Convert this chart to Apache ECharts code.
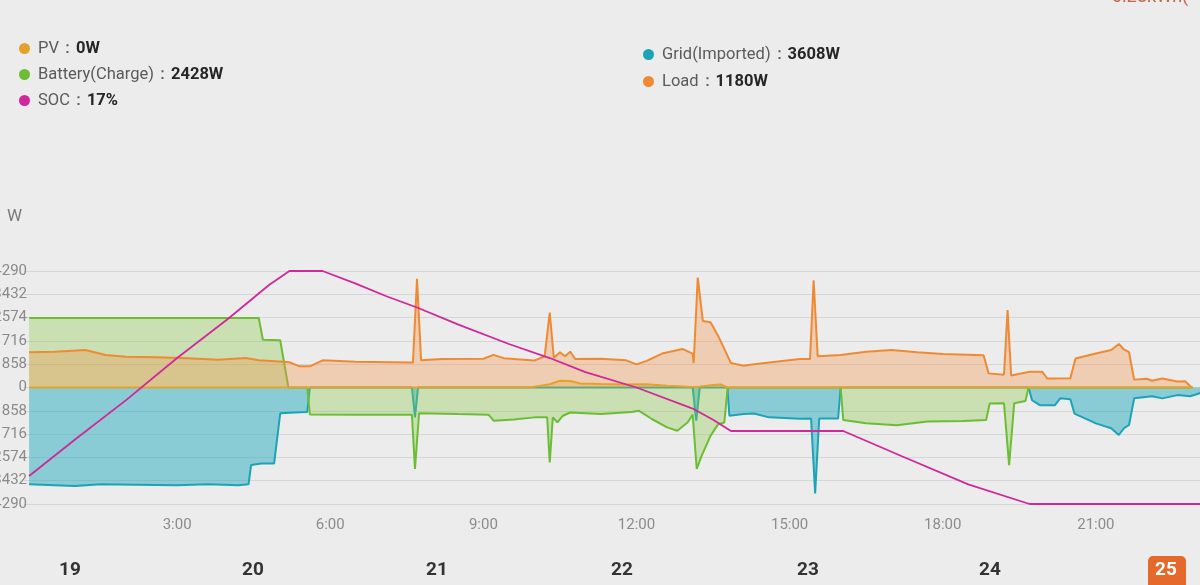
<!DOCTYPE html>
<html>
<head>
<meta charset="utf-8">
<script src="https://cdn.jsdelivr.net/npm/echarts@6/dist/echarts.min.js"></script>
<style>
html,body{margin:0;padding:0;background:#ececec;}
#c{width:1200px;height:585px;}
</style>
</head>
<body>
<div id="c"></div>
<script>
// ---- data (hour of day, watts) ----
const seriesNames = ['PV', 'Battery(Charge)', 'SOC', 'Grid(Imported)', 'Load'];
const legendValues = ['0W', '2428W', '17%', '3608W', '1180W'];
const dateLabels = ['19', '20', '21', '22', '23', '24', '25'];
const headerNote = '0.28kWh(';

const pvData = [[0.1,0],[9.9,0],[10.1,60],[10.3,120],[10.5,250],[10.7,240],[10.9,150],[11.3,130],[11.8,110],[12.2,120],[12.6,60],[13.0,30],[13.2,20],[13.5,90],[13.65,110],[13.78,0],[22.9,0]];

const batteryData = [[0.1,2560],[4.6,2560],[4.68,1760],[5.02,1740],[5.18,0],[5.55,0],[5.6,-990],[6.5,-1000],[7.2,-1000],[7.6,-1000],[7.66,-3000],[7.74,-950],[8.5,-980],[9.1,-1000],[9.2,-1220],[9.6,-1180],[10.0,-1100],[10.25,-1100],[10.3,-2760],[10.36,-1100],[10.45,-1280],[10.55,-1050],[10.7,-920],[11.3,-980],[11.9,-900],[12.05,-860],[12.3,-1160],[12.6,-1470],[12.8,-1590],[13.0,-1290],[13.1,-1000],[13.18,-3000],[13.28,-2500],[13.45,-1780],[13.6,-1350],[13.72,-1290],[13.78,-120],[13.82,0],[16.0,0],[16.05,-1200],[16.5,-1320],[17.1,-1390],[17.7,-1250],[18.4,-1230],[18.85,-1200],[18.92,-590],[19.2,-580],[19.3,-2860],[19.4,-580],[19.62,-500],[19.68,0],[22.9,0]];

const gridData = [[0.1,-3560],[0.6,-3600],[1.0,-3630],[1.5,-3560],[2.2,-3580],[3.0,-3600],[3.6,-3560],[4.2,-3600],[4.4,-3560],[4.45,-2850],[4.65,-2800],[4.9,-2800],[5.02,-950],[5.3,-920],[5.55,-900],[5.6,0],[7.6,0],[7.66,-1100],[7.72,0],[13.1,0],[13.17,-1220],[13.24,0],[13.78,0],[13.82,-1040],[14.1,-980],[14.3,-960],[14.6,-1100],[15.2,-1150],[15.42,-1140],[15.5,-3900],[15.58,-1140],[15.95,-1140],[16.0,0],[19.68,0],[19.75,-470],[19.9,-650],[20.2,-650],[20.3,-400],[20.5,-430],[20.58,-960],[21.0,-1320],[21.3,-1500],[21.45,-1750],[21.55,-1500],[21.65,-1380],[21.75,-400],[22.1,-320],[22.3,-400],[22.6,-280],[22.85,-320],[23.05,-200]];

const loadData = [[0.1,1300],[0.6,1320],[1.2,1380],[1.6,1200],[2.0,1130],[2.6,1110],[3.2,1080],[3.8,1020],[4.35,1090],[4.6,1000],[5.0,960],[5.2,930],[5.4,780],[5.6,780],[5.85,1000],[6.5,950],[7.2,930],[7.62,920],[7.7,4000],[7.78,1000],[8.2,1050],[9.0,1060],[9.2,1200],[9.4,1080],[10.0,990],[10.2,1150],[10.3,2760],[10.38,1100],[10.5,1300],[10.6,1150],[10.7,1320],[10.8,1050],[11.3,1060],[11.8,1000],[12.0,850],[12.2,980],[12.5,1250],[12.9,1420],[13.1,1250],[13.12,900],[13.2,4050],[13.3,2450],[13.45,2400],[13.6,1900],[13.75,1300],[13.85,900],[14.1,800],[14.3,860],[15.2,1050],[15.4,1050],[15.47,3950],[15.55,1150],[16.0,1200],[16.5,1320],[17.0,1380],[17.5,1300],[18.0,1230],[18.8,1190],[18.9,520],[19.2,470],[19.27,2850],[19.34,440],[19.7,580],[19.95,580],[20.05,330],[20.5,340],[20.6,1070],[21.0,1250],[21.3,1380],[21.45,1600],[21.55,1400],[21.65,1300],[21.75,290],[22.0,320],[22.1,250],[22.3,330],[22.6,220],[22.75,230],[22.87,10]];

const socData = [[0.1,27],[1.0,40],[2.0,54],[3.0,69],[4.0,83],[4.8,95],[5.2,100],[5.85,100],[6.5,95.5],[7.1,91],[7.7,87],[8.5,81],[9.5,74],[10.3,69],[11.0,64],[12.0,58.5],[13.1,51],[13.5,47],[13.85,43],[16.05,43],[17.2,34],[18.5,24],[19.7,17],[23.05,17]];

const colors = {
  pv: '#e3a22b', battery: '#6cbd35', soc: '#d0279a', grid: '#1ca3b5', load: '#ee8a34'
};

const chart = echarts.init(document.getElementById('c'), null, {renderer: 'canvas'});

function legendFmt(name) {
  return name + '：{v|' + legendValues[seriesNames.indexOf(name)] + '}';
}
const legendText = {
  color: '#5a5a5a', fontSize: 16.5, fontFamily: 'Roboto', padding: [0, 0, 0, 3],
  rich: { v: { fontWeight: 'bold', color: '#262626', fontSize: 16.5, fontFamily: 'Roboto' } }
};

const dateGraphics = dateLabels.map(function (d, i) {
  const xs = [70, 253, 437, 622, 808, 990, 1166];
  const last = i === dateLabels.length - 1;
  return {
    type: 'text', x: xs[i] - 11, y: 561,
    style: { text: d, fill: last ? '#ffffff' : '#333', font: 'bold 19px Roboto' },
    z: 10
  };
});

chart.setOption({
  backgroundColor: '#ececec',
  animation: false,
  legend: [
    { data: ['PV', 'Battery(Charge)', 'SOC'], orient: 'vertical', left: 14, top: 35,
      icon: 'circle', itemWidth: 11, itemHeight: 11, itemGap: 9,
      formatter: legendFmt, textStyle: legendText, selectedMode: false },
    { data: ['Grid(Imported)', 'Load'], orient: 'vertical', left: 638, top: 41,
      icon: 'circle', itemWidth: 11, itemHeight: 11, itemGap: 10,
      formatter: legendFmt, textStyle: legendText, selectedMode: false }
  ],
  grid: { left: 24, top: 271, right: 0, height: 233, outerBoundsMode: 'none', containLabel: false },
  xAxis: {
    type: 'value', min: 0, max: 23.04, interval: 3,
    axisLine: { show: false }, axisTick: { show: false },
    splitLine: { show: false },
    axisLabel: {
      color: '#8c8c8c', fontSize: 15, margin: 14, fontFamily: 'Roboto',
      formatter: function (v) { return (v === 0 || v % 3 !== 0) ? '' : v + ':00'; }
    }
  },
  yAxis: [
    { type: 'value', min: -4290, max: 4290, interval: 858,
      axisLine: { show: false }, axisTick: { show: false },
      splitLine: { lineStyle: { color: '#d6d6d6', width: 1 } },
      axisLabel: { color: '#8a8a8a', fontSize: 15, margin: -3, fontFamily: 'Roboto',
        formatter: function (v) { return String(Math.abs(v)); } } },
    { type: 'value', min: 17, max: 100, show: false }
  ],
  graphic: [
    { type: 'text', x: 7, y: 208, style: { text: 'W', fill: '#7a7a7a', font: '17px Roboto' } },
    { type: 'text', x: 1112, y: -12, style: { text: headerNote, fill: '#c4664c', font: '18px Roboto' } },
    { type: 'rect', shape: { x: 1148, y: 556, width: 38, height: 40, r: 5 }, style: { fill: '#e4692b' }, z: 5 }
  ].concat(dateGraphics),
  series: [
    { name: 'Grid(Imported)', type: 'line', data: gridData, showSymbol: false, symbol: 'none',
      lineStyle: { color: colors.grid, width: 2 }, itemStyle: { color: colors.grid },
      areaStyle: { color: 'rgba(35,172,192,0.7)' }, z: 2 },
    { name: 'Battery(Charge)', type: 'line', data: batteryData, showSymbol: false, symbol: 'none',
      lineStyle: { color: colors.battery, width: 2 }, itemStyle: { color: colors.battery },
      areaStyle: { color: 'rgba(140,200,70,0.5)' }, z: 3 },
    { name: 'Load', type: 'line', data: loadData, showSymbol: false, symbol: 'none',
      lineStyle: { color: colors.load, width: 2 }, itemStyle: { color: colors.load },
      areaStyle: { color: 'rgba(240,148,75,0.5)' }, z: 4 },
    { name: 'PV', type: 'line', data: pvData, showSymbol: false, symbol: 'none',
      lineStyle: { color: colors.pv, width: 2 }, itemStyle: { color: colors.pv },
      areaStyle: { color: 'rgba(225,165,40,0.45)' }, z: 5 },
    { name: 'SOC', type: 'line', yAxisIndex: 1, data: socData, showSymbol: false, symbol: 'none',
      lineStyle: { color: colors.soc, width: 1.8 }, itemStyle: { color: colors.soc }, z: 6 }
  ]
});
</script>
</body>
</html>
